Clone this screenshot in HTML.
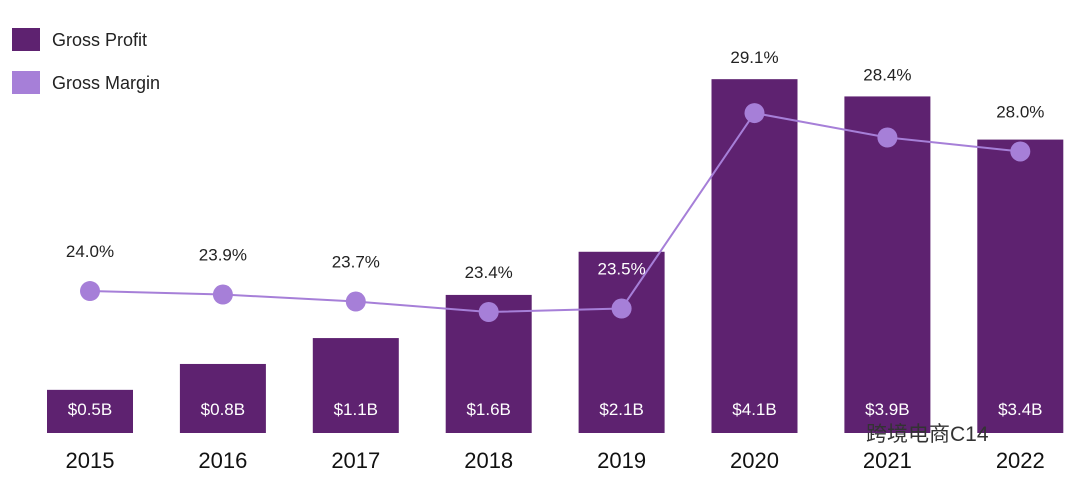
<!DOCTYPE html>
<html><head><meta charset="utf-8"><style>
html,body{margin:0;padding:0;background:#fff;}
body{width:1080px;height:482px;overflow:hidden;font-family:"Liberation Sans","Noto Sans CJK SC",sans-serif;}
</style></head><body>
<svg id="chart" width="1080" height="482" viewBox="0 0 1080 482" xmlns="http://www.w3.org/2000/svg">
<g>
<rect x="12" y="28" width="28" height="23" fill="#5e2270"/>
<text x="52" y="46" font-size="18" fill="#222">Gross Profit</text>
<rect x="12" y="71" width="28" height="23" fill="#a67fd8"/>
<text x="52" y="89" font-size="18" fill="#222">Gross Margin</text>
</g>
<g id="bars"></g><g id="line"></g><g id="labels"></g>
<text x="866" y="441" font-size="21" fill="#333">跨境电商C14</text>
</svg>
<script>
const years=["2015","2016","2017","2018","2019","2020","2021","2022"];
const profit=[0.5,0.8,1.1,1.6,2.1,4.1,3.9,3.4];
const profitLabels=["$0.5B","$0.8B","$1.1B","$1.6B","$2.1B","$4.1B","$3.9B","$3.4B"];
const margin=[24.0,23.9,23.7,23.4,23.5,29.1,28.4,28.0];
const NS="http://www.w3.org/2000/svg";
const x0=90,step=132.9,barW=86,base=433;
const xPos=i=>x0+i*step;
const yBar=v=>base-v*86.3;
const yLine=v=>312-(v-23.4)*34.9;
function mk(tag,attrs,parent,txt){const e=document.createElementNS(NS,tag);for(const k in attrs)e.setAttribute(k,attrs[k]);if(txt!==undefined)e.textContent=txt;document.getElementById(parent).appendChild(e);return e;}
years.forEach((y,i)=>{
 const cx=xPos(i),top=yBar(profit[i]);
 const b=mk('rect',{x:cx-barW/2,y:top,width:barW,height:base-top,fill:'#5e2270'},'bars');
 
 
 const t=mk('text',{x:cx,y:415,'text-anchor':'middle','font-size':17,fill:'#fff'},'labels',profitLabels[i]);
 
 
 const yl=mk('text',{x:cx,y:468,'text-anchor':'middle','font-size':22,fill:'#111'},'labels',y);
 
 
});
const pts=margin.map((m,i)=>xPos(i)+','+yLine(m)).join(' ');
const pl=mk('polyline',{points:pts,fill:'none',stroke:'#a67fd8','stroke-width':2},'line');


margin.forEach((m,i)=>{
 const py=yLine(m);
 let cy=py-40;
 if(profit[i]>3.5) cy=Math.min(cy,yBar(profit[i])-22);
 const inside=cy>yBar(profit[i]);
 const c=mk('circle',{cx:xPos(i),cy:py,r:10,fill:'#a67fd8'},'line');
 
 
 const t=mk('text',{x:xPos(i),y:cy+6,'text-anchor':'middle','font-size':17,fill:inside?'#fff':'#222'},'labels',m.toFixed(1)+'%');
 
 
});
</script>
</body></html>
